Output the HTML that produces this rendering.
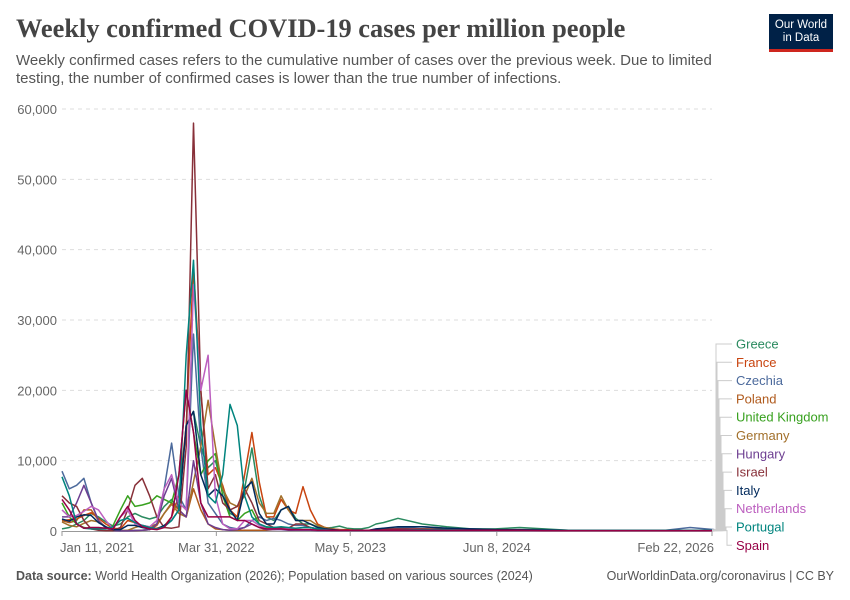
<!DOCTYPE html>
<html><head><meta charset="utf-8"><style>
body{margin:0;background:#fff;font-family:"Liberation Sans",sans-serif}
#wrap{position:relative;width:850px;height:600px;overflow:hidden}
.title{position:absolute;left:16px;top:13px;font-family:"Liberation Serif",serif;font-size:26.4px;font-weight:bold;color:#444}
.sub{position:absolute;left:16px;top:52px;width:820px;font-size:15px;line-height:18px;color:#555;white-space:nowrap}
.logo{position:absolute;left:769px;top:14px;width:64px;height:38px;background:#002147;color:#fff;font-size:11.5px;line-height:13px;text-align:center;padding-top:5px;box-sizing:border-box;border-bottom:3px solid #ce261e}
.foot{position:absolute;top:569px;font-size:12.5px;color:#555}
</style></head><body><div id="wrap">
<div class="title">Weekly confirmed COVID-19 cases per million people</div>
<div class="sub">Weekly confirmed cases refers to the cumulative number of cases over the previous week. Due to limited<br>testing, the number of confirmed cases is lower than the true number of infections.</div>
<div class="logo">Our World<br>in Data</div>
<div class="foot" style="left:16px"><b>Data source:</b> World Health Organization (2026); Population based on various sources (2024)</div>
<div class="foot" style="right:16px">OurWorldinData.org/coronavirus | CC BY</div>
<svg id="svg" width="850" height="600" style="position:absolute;left:0;top:0"></svg>
</div>
<script>
const weeks=[];for(let w=0;w<=138;w+=3)weeks.push(w);for(let w=148;w<=268;w+=10)weeks.push(w);
const countries=["Greece","France","Czechia","Poland","United Kingdom","Germany","Hungary","Israel","Italy","Netherlands","Portugal","Spain"];
const colors=["#2a8a5f","#c8440f","#4c6a9c","#b05a1c","#38a11f","#a2702b","#6d3e91","#883039","#00295b","#bc5fbf","#00847e","#970046"];
const greece=[0.3,0.5,1,1.5,2.5,2,1.3,0.7,1,2,2.5,2,1.7,2,3.5,4.5,3,15,17,12,9,10,6,2.5,2,6,11.8,5,2,1.5,3,3.5,1.8,1,1,0.6,0.4,0.5,0.7,0.4,0.3,0.3,0.5,1,1.2,1.5,1.8,1,0.6,0.3,0.3,0.5,0.3,0.1,0.1,0.1,0.1,0.1,0.1,0.1];
const france=[1.5,1.6,1.7,2.2,2.6,1.8,1,0.4,0.3,1.5,1.2,0.7,0.4,0.4,0.7,2,5,15,37.5,20,8,9,6.5,3,2,8,14,7,2,2,4.5,3,2.5,6.3,3,1,0.5,0.3,0.2,0.2,0.1,0.1,0.1,0.1,0.1,0.2,0.2,0.3,0.3,0.2,0.1,0.1,0.1,0.1,0.05,0.05,0.05,0.05,0.05,0.05];
const czechia=[8.5,6,6.5,7.5,4,1.5,0.4,0.1,0.05,0.05,0.1,0.1,0.2,1,6,12.5,5,3,28,12,4,2.5,1,0.5,0.3,0.5,1.5,2,1.5,1.8,1.5,1,0.8,0.8,0.5,0.3,0.3,0.2,0.1,0.1,0.1,0.1,0.1,0.1,0.2,0.3,0.4,0.6,0.4,0.3,0.2,0.1,0.1,0.1,0.1,0.1,0.1,0.1,0.5,0.2];
const poland=[1.5,1.2,1.5,3,3,1.5,0.5,0.1,0.05,0.05,0.05,0.1,0.2,0.8,2.5,4,3,2,6,3,1,0.3,0.2,0.1,0.1,0.1,0.1,0.1,0.1,0.2,0.3,0.2,0.1,0.1,0.1,0.1,0.1,0.05,0.05,0.05,0.05,0.05,0.05,0.05,0.05,0.05,0.05,0.05,0.05,0.05,0.05,0.05,0.05,0.05,0.05,0.05,0.05,0.05,0.05,0.05];
const uk=[4,2,1,0.5,0.3,0.3,0.3,0.8,3,5,3.5,3.7,4,5,4.5,4,8,20,14,8,10,11,5,2,1.5,2.5,3,1,0.5,0.5,0.5,0.3,0.2,0.2,0.2,0.2,0.1,0.1,0.1,0.1,0.1,0.1,0.1,0.1,0.1,0.1,0.1,0.1,0.1,0.1,0.1,0.1,0.1,0.1,0.1,0.1,0.1,0.1,0.1,0.1];
const germany=[1.3,0.8,0.6,1.1,1.5,1.3,0.6,0.1,0.05,0.1,0.5,0.8,0.6,1,2.5,3.8,2.5,2,7,12,18.6,12,6,4,3.5,5,7.5,4,2.5,2.5,5,3,1.5,1.5,1.5,0.8,0.5,0.3,0.2,0.1,0.1,0.1,0.1,0.1,0.1,0.1,0.1,0.1,0.1,0.1,0.1,0.1,0.05,0.05,0.05,0.05,0.05,0.05,0.05,0.05];
const hungary=[2,2,4,6.5,4,1.5,0.4,0.05,0.02,0.02,0.05,0.1,0.2,1,5,7.5,3,2,10,4,1,0.5,0.2,0.1,0.2,0.5,1,0.5,0.2,0.2,0.2,0.1,0.1,0.1,0.1,0.05,0.05,0.05,0.05,0.05,0.05,0.05,0.05,0.05,0.05,0.05,0.05,0.05,0.05,0.05,0.05,0.05,0.05,0.05,0.05,0.05,0.05,0.05,0.05,0.05];
const israel=[5,4,3.5,1.5,0.3,0.1,0.05,0.05,0.5,3,6.5,7.5,5,2,0.5,0.4,0.6,12,58,20,6,8,4,3,3.5,6,4,1.5,1,0.5,0.5,0.4,1,1,0.5,0.3,0.3,0.2,0.1,0.1,0.1,0.1,0.1,0.2,0.3,0.3,0.3,0.3,0.2,0.1,0.1,0.1,0.1,0.05,0.05,0.05,0.05,0.05,0.05,0.05];
const italy=[1.7,1.4,2,2.3,2.2,1.2,0.6,0.2,0.2,0.8,0.8,0.5,0.3,0.3,0.8,1.5,3,15,17,8,5,6,5,3,1.5,6,7,2.5,1,1,3,3.5,1.5,1.5,1,0.5,0.3,0.2,0.1,0.1,0.1,0.1,0.1,0.3,0.4,0.5,0.6,0.6,0.4,0.3,0.2,0.2,0.2,0.1,0.1,0.1,0.1,0.1,0.1,0.1];
const netherlands=[3,2,2.2,2.8,3.5,3,1.5,0.3,2,3,1,0.8,0.6,1.5,6,8,4,3,35,20,25,5,1,0.3,0.3,1.5,1.5,0.8,0.3,0.3,0.3,0.3,0.2,0.2,0.2,0.1,0.1,0.1,0.1,0.1,0.1,0.1,0.1,0.1,0.1,0.1,0.1,0.1,0.1,0.1,0.1,0.1,0.05,0.05,0.05,0.05,0.05,0.05,0.05,0.05];
const portugal=[7.7,5,1,0.4,0.3,0.3,0.3,0.6,1.5,1.8,1.2,0.8,0.5,0.3,0.6,1.5,3,25,38.5,15,5,4,8,18,15,5,2,1,0.6,0.5,0.6,0.5,0.4,0.5,0.5,0.3,0.2,0.1,0.1,0.1,0.1,0.1,0.1,0.1,0.1,0.1,0.1,0.2,0.2,0.1,0.1,0.1,0.1,0.1,0.1,0.1,0.1,0.1,0.1,0.1];
const spain=[4.5,3,1,0.4,0.5,0.5,0.4,0.3,2,3.5,1.5,0.6,0.3,0.2,0.5,2,8,20,14,4,2,2,2,2,1.5,1.5,1,0.5,0.3,0.3,0.3,0.2,0.2,0.2,0.2,0.1,0.1,0.1,0.1,0.1,0.1,0.1,0.1,0.1,0.1,0.1,0.1,0.1,0.1,0.1,0.1,0.1,0.05,0.05,0.05,0.05,0.05,0.05,0.05,0.05];
const series=[greece,france,czechia,poland,uk,germany,hungary,israel,italy,netherlands,portugal,spain];
const yTicks=[0,10000,20000,30000,40000,50000,60000];
const xTickWeeks=[0,63.4,118.4,178.6,267];
const xTickLabels=["Jan 11, 2021","Mar 31, 2022","May 5, 2023","Jun 8, 2024","Feb 22, 2026"];
const NS="http://www.w3.org/2000/svg",svg=document.getElementById('svg');
const X0=62,X1=712,Y0=531,Y1=109;
const xs=w=>X0+w/267*(X1-X0), ys=v=>Y0-v/60000*(Y0-Y1);
function mk(t,a,p){const e=document.createElementNS(NS,t);for(const k in a)e.setAttribute(k,a[k]);(p||svg).appendChild(e);return e;}
yTicks.forEach(v=>{
 if(v>0){const l=mk('line',{x1:X0,x2:X1,y1:ys(v),y2:ys(v),stroke:'#ddd','stroke-dasharray':'4,4'});
 
 }
 const t=mk('text',{x:57,y:ys(v)+5,'text-anchor':'end','font-size':13,fill:'#666','font-family':'Liberation Sans'});t.textContent=v.toLocaleString('en-US');
 
 
});
const ax=mk('line',{x1:X0,x2:X1,y1:Y0+0.5,y2:Y0+0.5,stroke:'#999'});


xTickWeeks.forEach((w,i)=>{
 mk('line',{x1:xs(w),x2:xs(w),y1:Y0,y2:Y0+5,stroke:'#999'});
 const t=mk('text',{x:xs(w),y:552,'text-anchor':i==0?'start':(i==4?'end':'middle'),'font-size':13,fill:'#666','font-family':'Liberation Sans'});
 if(i==0)t.setAttribute('x',xs(w)-2);
 if(i==4)t.setAttribute('x',xs(w)+2);
 t.textContent=xTickLabels[i];
 
 
});
series.forEach((s,ci)=>{
 const d=s.map((v,i)=>(i?'L':'M')+xs(weeks[i]).toFixed(1)+','+ys(v*1000).toFixed(1)).join('');
 const p=mk('path',{d:d,fill:'none',stroke:colors[ci],'stroke-width':1.5,'stroke-linejoin':'round'});
 
 
});
countries.forEach((c,i)=>{
 const ly=344+i*18.3, ex=ys(series[i][series[i].length-1]*1000);
 mk('path',{d:`M${X1},${ex}H${716+i}V${ly}H732`,fill:'none',stroke:'#ccc','stroke-width':1});
 const t=mk('text',{x:736,y:ly+4.5,'font-size':13,fill:colors[i],'font-family':'Liberation Sans'});t.textContent=c;
 
 
});
</script></body></html>
